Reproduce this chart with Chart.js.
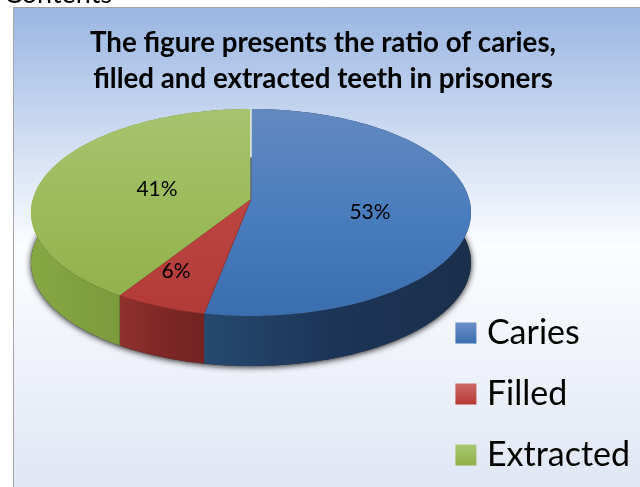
<!DOCTYPE html>
<html><head><meta charset="utf-8">
<style>html,body{margin:0;padding:0;background:#fff;overflow:hidden}canvas{display:block}</style>
<script src="https://cdn.jsdelivr.net/npm/chart.js@4/dist/chart.umd.min.js"></script>
</head><body><div style="width:640px;height:487px;position:relative"><canvas id="c" width="640" height="487"></canvas></div>
<script>
const categories = ['Caries','Filled','Extracted'];
const seriesValues = [53,6,41];
const titleLines = ['The figure presents the ratio of caries,','filled and extracted teeth in prisoners'];
const topColors = [['#6389c0','#4a7dbd','#3a6eae'],['#c96562','#bb4441','#b23a37'],['#a6c46f','#9bbb59','#8fb049']];
const wallColors = [['#26496f','#1c3456','#1a2f4c'],['#90322e','#7e2726','#722322'],['#86a843','#78973b','#698433']];
const legendColors = [['#6a90c8','#3a6eb0'],['#cb6b68','#b83834'],['#a9c874','#8eb045']];
const labelAt = [[370,212],[176,271],[157,189]];
const P = {cx:251, cy:199, a:218.1, b:101.7, k:0.1304, depth:50, top:109, bottom:316, left:31, right:471};

function proj(theta, r){ // theta: canvas angle from the arc element
  const u = r*Math.cos(theta), v = -r*Math.sin(theta), w = 1+P.k*v;
  return [P.cx+P.a*u/w, P.cy-P.b*v/w];
}
function grad(ctx,x0,y0,x1,y1,cols){
  const g=ctx.createLinearGradient(x0,y0,x1,y1);
  cols.forEach((c,i)=>g.addColorStop(i/(cols.length-1),c));
  return g;
}
function arcPts(el){
  const pts=[], n=Math.max(8,Math.ceil((el.endAngle-el.startAngle)/0.02));
  for(let i=0;i<=n;i++) pts.push(proj(el.startAngle+(el.endAngle-el.startAngle)*i/n,1));
  return pts;
}
const scene = {
  id:'scene',
  beforeDraw(chart){
    const ctx=chart.ctx;
    ctx.save();
    ctx.fillStyle='#fff';ctx.fillRect(0,0,640,487);
    const g=ctx.createLinearGradient(0,8,0,487);
    g.addColorStop(0,'#9ab6e2');g.addColorStop(0.5,'#fcfdff');g.addColorStop(1,'#e0e6f4');
    ctx.fillStyle=g;ctx.fillRect(13,8,627,479);
    ctx.strokeStyle='#a3a3a3';ctx.lineWidth=1;
    ctx.beginPath();ctx.moveTo(13.5,487);ctx.lineTo(13.5,7.5);ctx.lineTo(640,7.5);ctx.stroke();
    ctx.fillStyle='#000';ctx.font='27px Lato';ctx.textBaseline='alphabetic';ctx.textAlign='left';
    ctx.fillText('Contents',4,3);
    ctx.restore();
    const lg=chart.legend;
    lg.legendItems.forEach((it,i)=>{
      const h=lg.legendHitBoxes[i], y=h.top+(h.height-21)/2;
      const f=grad(ctx,0,y,0,y+21,legendColors[i]);
      it.fillStyle=f;it.strokeStyle=f;it.lineWidth=13;
    });
  },
  beforeDatasetDraw(chart){
    const ctx=chart.ctx, els=chart.getDatasetMeta(0).data;
    ctx.save();
    // soft shadow under the rim
    ctx.save();
    ctx.shadowColor='rgba(0,0,0,0.9)';ctx.shadowBlur=6;ctx.shadowOffsetX=0;ctx.shadowOffsetY=1;
    ctx.fillStyle='#333';ctx.beginPath();
    for(let i=0;i<=360;i++){const p=proj(i*Math.PI/180,1);
      if(i===0)ctx.moveTo(p[0],p[1]+P.depth);else ctx.lineTo(p[0],p[1]+P.depth);}
    ctx.closePath();ctx.fill();
    ctx.restore();
    // walls
    els.forEach((el,i)=>{
      const pts=arcPts(el), xs=pts.map(p=>p[0]);
      const x0=Math.min(...xs), x1=Math.max(...xs);
      ctx.fillStyle=grad(ctx,x0,0,x1,0,wallColors[i]);
      ctx.beginPath();
      pts.forEach((p,j)=>j?ctx.lineTo(p[0],p[1]):ctx.moveTo(p[0],p[1]));
      for(let j=pts.length-1;j>=0;j--)ctx.lineTo(pts[j][0],pts[j][1]+P.depth);
      ctx.closePath();ctx.fill();
    });
    // top faces
    els.forEach((el,i)=>{
      const pts=arcPts(el), c=proj(0,0);
      const f=grad(ctx,0,P.top,0,P.bottom,topColors[i]);
      ctx.fillStyle=f;
      ctx.beginPath();ctx.moveTo(c[0],c[1]);
      pts.forEach(p=>ctx.lineTo(p[0],p[1]));
      ctx.closePath();ctx.fill();
      ctx.strokeStyle=i===1?'rgba(150,45,42,0.7)':'rgba(0,0,0,0)';ctx.lineWidth=1;ctx.stroke();
    });
    // seam at the top of the pie
    const s=els[0].startAngle, a=proj(s,1), m=proj(s,0.43), o=proj(s,0);
    ctx.lineWidth=1.5;
    ctx.strokeStyle='#e4e8ea';ctx.beginPath();ctx.moveTo(a[0],a[1]);ctx.lineTo(m[0],m[1]);ctx.stroke();
    ctx.strokeStyle='#5b6a78';ctx.beginPath();ctx.moveTo(m[0],m[1]);ctx.lineTo(o[0],o[1]);ctx.stroke();
    ctx.restore();
    return false;
  },
  afterDatasetsDraw(chart){
    const ctx=chart.ctx, total=seriesValues.reduce((a,b)=>a+b,0);
    ctx.save();
    ctx.fillStyle='#000';ctx.font='21px Lato';ctx.textAlign='center';ctx.textBaseline='middle';
    seriesValues.forEach((v,i)=>ctx.fillText(Math.round(v/total*100)+'%',labelAt[i][0],labelAt[i][1]));
    ctx.restore();
  }
};
new Chart(document.getElementById('c'),{
  type:'pie',
  data:{labels:categories,datasets:[{data:seriesValues,backgroundColor:['#4a7dbd','#bb4441','#9bbb59'],borderWidth:0}]},
  plugins:[scene],
  options:{
    responsive:false,animation:false,
    events:[],
    layout:{padding:{left:6,right:0,top:0,bottom:-12}},
    plugins:{
      tooltip:{enabled:false},
      title:{display:true,text:titleLines,color:'#000',font:{family:'Lato',size:27.7,weight:'bold',lineHeight:1.3},padding:{top:25,bottom:10}},
      legend:{display:true,position:'right',align:'end',
        labels:{color:'#000',font:{family:'Lato',size:34},boxWidth:8,boxHeight:8,padding:27}}
    }
  }
});
</script></body></html>
